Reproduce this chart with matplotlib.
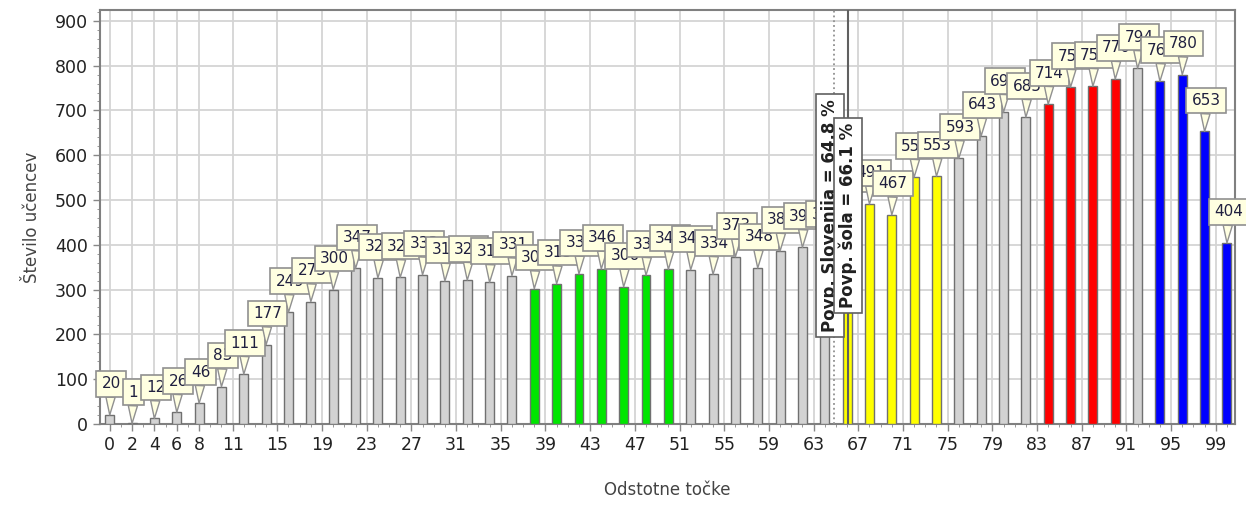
import matplotlib
matplotlib.use("Agg")
import matplotlib.pyplot as plt

# data
tocke = list(range(0, 101, 2))
ucenci = [20, 1, 12, 26, 46, 83, 111, 177, 249, 273,
          300, 347, 326, 327, 333, 319, 321, 316, 331, 302,
          313, 335, 346, 306, 332, 345, 344, 334, 373, 348,
          386, 394, 399, 477, 491, 467, 551, 553, 593, 643,
          696, 685, 714, 752, 754, 770, 794, 765, 780, 653,
          404]
zelena = [38, 40, 42, 44, 46, 48, 50]
rumena = [66, 68, 70, 72, 74]
rdeca = [84, 86, 88, 90]
modra = [94, 96, 98, 100]
tick_labels = [0, 2, 4, 6, 8, 11, 15, 19, 23, 27, 31, 35, 39, 43, 47, 51,
               55, 59, 63, 67, 71, 75, 79, 83, 87, 91, 95, 99]
povp_slo = 64.8
povp_sola = 66.1

barve = []
for t in tocke:
    if t in zelena:
        barve.append('#00e600')
    elif t in rumena:
        barve.append('#ffff00')
    elif t in rdeca:
        barve.append('#ff0000')
    elif t in modra:
        barve.append('#0000ff')
    else:
        barve.append('#d3d3d3')

fig = plt.figure(figsize=(12.46, 5.07), dpi=100)
ax = fig.add_axes([0.080, 0.164, 0.911, 0.816])

ax.bar(tocke, ucenci, width=0.8, color=barve, edgecolor='#707070',
       linewidth=1.0, zorder=3)

ax.set_xlim(-0.9, 100.7)
ax.set_ylim(0, 924)
ax.set_xticks(tick_labels)
ax.set_xticklabels([str(t) for t in tick_labels])
ax.set_xticks(range(0, 101), minor=True)
ax.set_yticks(range(0, 901, 100))
ax.set_yticks(range(0, 921, 20), minor=True)
ax.tick_params(axis='both', which='major', labelsize=12.5, length=5, width=1)
ax.tick_params(axis='both', which='minor', length=2.5)
ax.tick_params(axis='x', which='both', colors='#888888', labelcolor='#222222')
ax.tick_params(axis='y', which='both', colors='#888888', labelcolor='#222222')
ax.grid(True, which='major', color='#d4d4d4', linewidth=1.3, zorder=0)
ax.set_axisbelow(True)
for s in ax.spines.values():
    s.set_color('#808080')
    s.set_linewidth(1.5)

ax.set_xlabel('Odstotne točke', fontsize=12, color='#444444', labelpad=20)
ax.set_ylabel('Število učencev', fontsize=12, color='#444444', labelpad=10)

# value callouts
for i, (t, v) in enumerate(zip(tocke, ucenci)):
    ax.annotate(str(v), xy=(t, v), xytext=(1, 17), textcoords='offset points',
                ha='center', va='bottom', fontsize=11, color='#202040',
                zorder=10 + i,
                bbox=dict(boxstyle='square,pad=0.35', fc='#ffffe1',
                          ec='#909090', lw=1.2),
                arrowprops=dict(arrowstyle='wedge,tail_width=0.6,shrink_factor=0.5',
                                fc='#ffffe1', ec='#909090', lw=1.0,
                                shrinkA=0, shrinkB=0))

# averages
ax.axvline(povp_slo, color='#909090', linestyle=':', linewidth=1.3, zorder=70)
ax.axvline(povp_sola, color='#606060', linestyle='-', linewidth=1.5, zorder=70)
ax.text(povp_slo - 0.3, 465, 'Povp. Slovenija = 64.8 %', rotation=90,
        ha='center', va='center', fontsize=12, fontweight='bold',
        color='#202020', zorder=80,
        bbox=dict(boxstyle='square,pad=0.3', fc='white', ec='#606060', lw=1.2))
ax.text(povp_sola, 465, 'Povp. šola = 66.1 %', rotation=90,
        ha='center', va='center', fontsize=12, fontweight='bold',
        color='#202020', zorder=81,
        bbox=dict(boxstyle='square,pad=0.3', fc='white', ec='#606060', lw=1.2))

fig.savefig('out.png', dpi=100)
